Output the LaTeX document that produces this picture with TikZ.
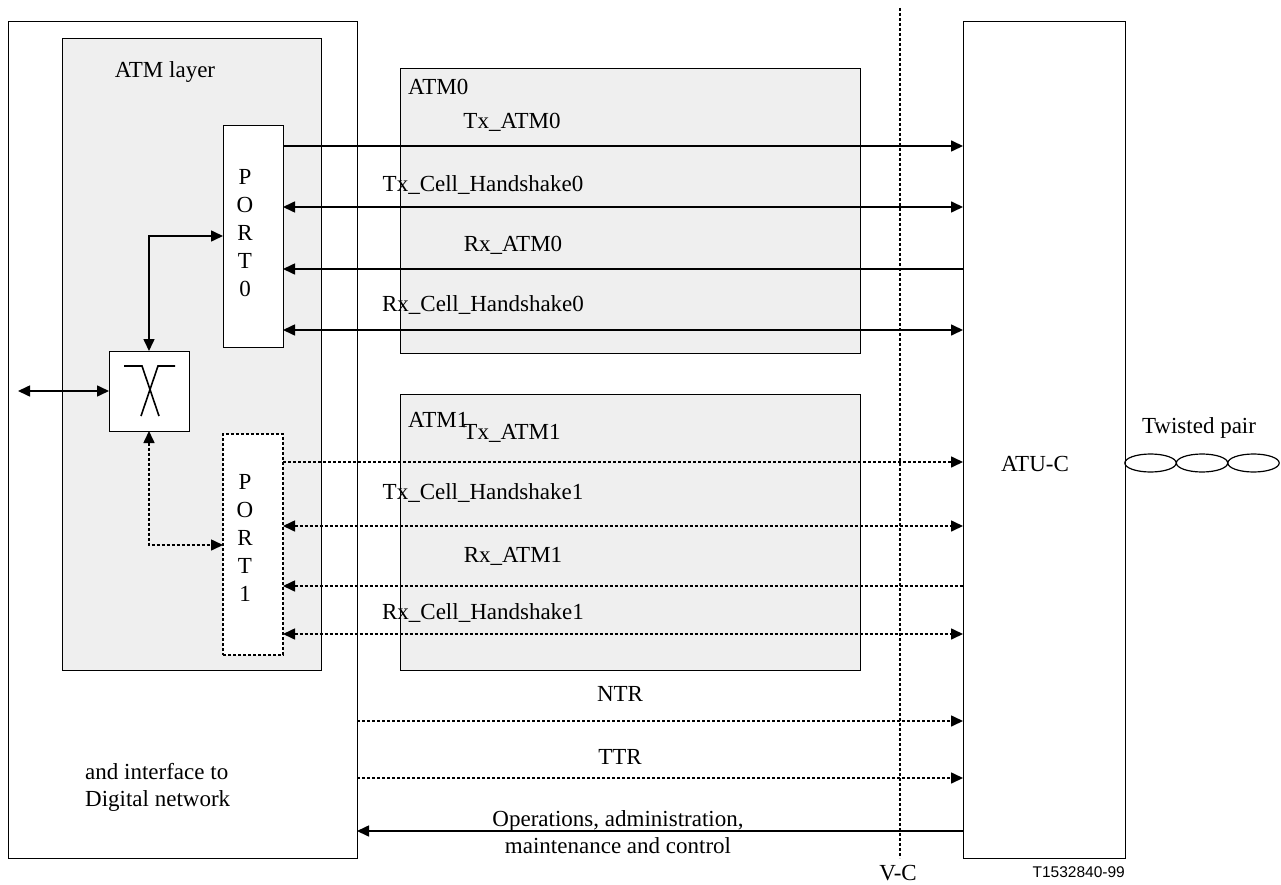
\documentclass[tikz,border=0pt]{standalone}
\usepackage{fontspec}
\setmainfont{Liberation Serif}
\newfontfamily\arialf{Liberation Sans}
\usetikzlibrary{arrows.meta}
\definecolor{boxgray}{RGB}{239,239,239}
\begin{document}
\begin{tikzpicture}[x=1pt,y=-1pt,
  >={Triangle[length=12pt,width=11pt]},
  box/.style={draw, line width=1pt, inner sep=0pt, outer sep=0pt, anchor=north west},
  gbox/.style={box, fill=boxgray},
  conn/.style={line width=1.6pt},
  dotline/.style={conn, dash pattern=on 3pt off 2pt},
  lbl/.style={font=\fontsize{23}{27}\selectfont, inner sep=0pt},
  vlbl/.style={font=\fontsize{23}{28}\selectfont, inner sep=0pt, align=center}]
\useasboundingbox (0,0) rectangle (1281,885);
% boxes
\node[box, fill=white, minimum width=349pt, minimum height=836pt] (outer) at (8,22) {};
\node[gbox, minimum width=259pt, minimum height=631pt] (atml) at (62,39) {};
\node[lbl] (atmlt) at (165,72) {ATM layer};
\node[box, fill=white, minimum width=60pt, minimum height=221pt] (p0) at (223,126) {};
\node[vlbl] (p0t) at (245,233) {P\\O\\R\\T\\0};
\node[box, fill=white, dash pattern=on 3pt off 2pt, line width=1.6pt, minimum width=60pt, minimum height=221pt] (p1) at (223,434) {};
\node[vlbl] (p1t) at (245,538) {P\\O\\R\\T\\1};
\node[box, fill=white, minimum width=80pt, minimum height=80pt] (sw) at (109,351) {};
\draw[line width=1.6pt] (124,366) -- (142,366) -- (159,416);
\draw[line width=1.6pt] (175,366) -- (158,366) -- (141,416);
\node[gbox, minimum width=460pt, minimum height=284pt] (atm0) at (400,69) {};
\node[gbox, minimum width=460pt, minimum height=276pt] (atm1) at (400,394) {};
\node[lbl, anchor=west] (atm0t) at (408,87) {ATM0};
\node[lbl, anchor=west] (atm1t) at (408,420) {ATM1};
\node[box, fill=white, minimum width=162pt, minimum height=836pt] (atuc) at (963,22) {};
\node[lbl] (atuct) at (1035,464) {ATU-C};
% V-C
\coordinate (vctop) at (900,8);
\coordinate (vcbot) at (900,858);
\draw[line width=1.4pt, dash pattern=on 3pt off 2pt] (vctop) -- (vcbot);
\node[lbl] (vct) at (898,873) {V-C};
% left interface
\coordinate (ext) at (18,391);
\draw[conn,<->] (ext) -- (sw.west);
\draw[conn,<->] (sw.north) |- (p0.west |- 0,236);
\draw[dotline,<->] (sw.south) |- (p1.west |- 0,545);
% ATM0 signals
\draw[conn,->] (p0.east |- 0,146) -- (atuc.west |- 0,146);
\draw[conn,<->] (p0.east |- 0,207) -- (atuc.west |- 0,207);
\draw[conn,<-] (p0.east |- 0,269) -- (atuc.west |- 0,269);
\draw[conn,<->] (p0.east |- 0,330) -- (atuc.west |- 0,330);
\node[lbl] (l1) at (512,122) {Tx\_ATM0};
\node[lbl] (l2) at (483,185) {Tx\_Cell\_Handshake0};
\node[lbl] (l3) at (513,245) {Rx\_ATM0};
\node[lbl] (l4) at (483,305) {Rx\_Cell\_Handshake0};
% ATM1 signals
\draw[dotline,->] (p1.east |- 0,462) -- (atuc.west |- 0,462);
\draw[dotline,<->] (p1.east |- 0,526) -- (atuc.west |- 0,526);
\draw[dotline,<-] (p1.east |- 0,586) -- (atuc.west |- 0,586);
\draw[dotline,<->] (p1.east |- 0,634) -- (atuc.west |- 0,634);
\node[lbl] (l5) at (512,433) {Tx\_ATM1};
\node[lbl] (l6) at (483,493) {Tx\_Cell\_Handshake1};
\node[lbl] (l7) at (513,556) {Rx\_ATM1};
\node[lbl] (l8) at (483,613) {Rx\_Cell\_Handshake1};
% bottom signals
\draw[dotline,->] (outer.east |- 0,721) -- (atuc.west |- 0,721);
\draw[dotline,->] (outer.east |- 0,778) -- (atuc.west |- 0,778);
\draw[conn,<-] (outer.east |- 0,831) -- (atuc.west |- 0,831);
\node[lbl] (ntr) at (620,694) {NTR};
\node[lbl] (ttr) at (620,757) {TTR};
\node[lbl, align=center] (oam) at (618,832) {Operations, administration,\\maintenance and control};
\node[lbl, align=left, anchor=west] (dig) at (85,787) {and interface to\\Digital network};
% twisted pair
\node[lbl] (tp) at (1199,428) {Twisted pair};
\draw[line width=1.2pt] (1150.5,463) ellipse [x radius=25.7, y radius=9];
\draw[line width=1.2pt] (1202,463) ellipse [x radius=25.7, y radius=9];
\draw[line width=1.2pt] (1253.5,463) ellipse [x radius=25.7, y radius=9];
% figure id
\node[inner sep=0pt, anchor=east, font=\arialf\fontsize{15.5}{18}\selectfont] (fid) at (1125,872) {T1532840-99};
\end{tikzpicture}
\end{document}
